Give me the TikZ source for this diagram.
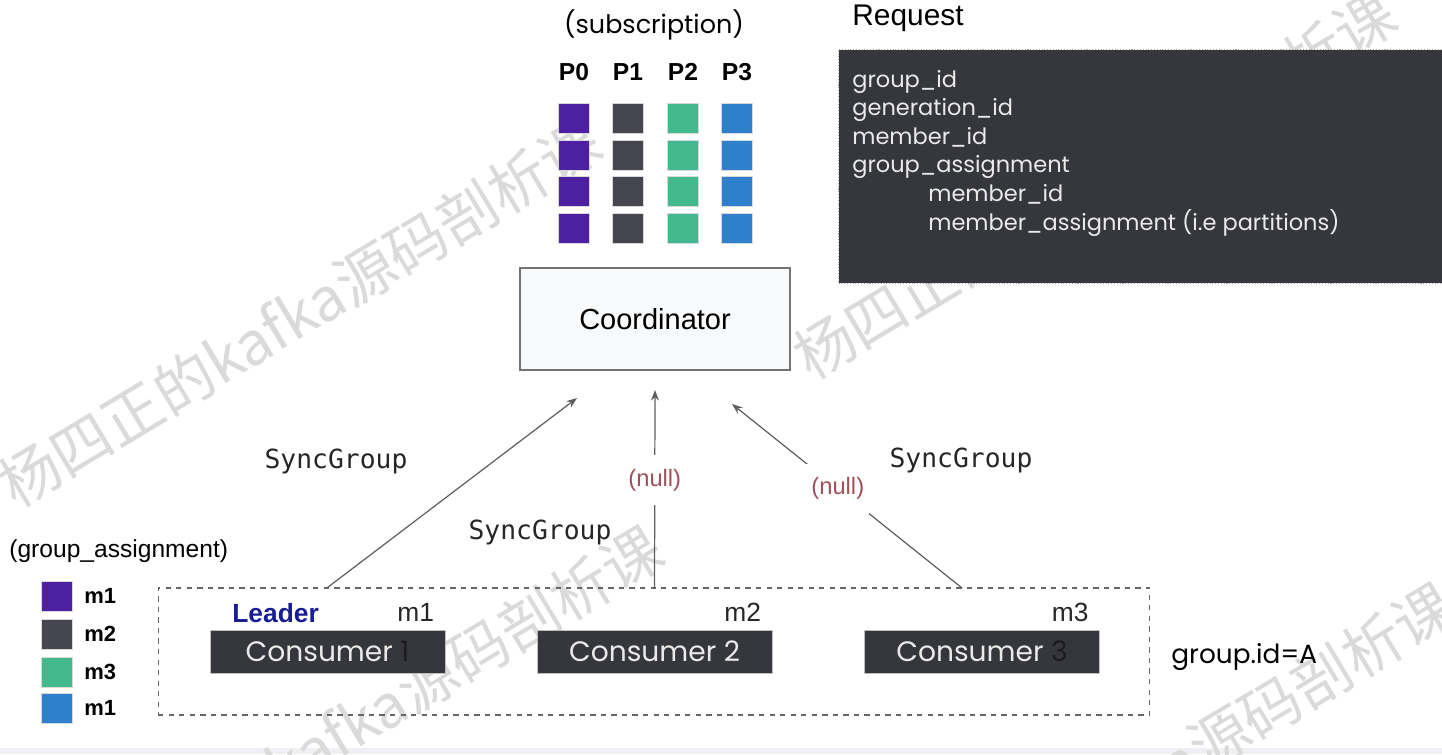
\documentclass[tikz,border=0pt]{standalone}
\usepackage{fontspec}
\setmainfont{Liberation Sans}
\newfontfamily\geofont{Poppins}
\newfontfamily\codefont{DejaVu Sans Mono}
\newfontfamily\wmfont{Noto Sans CJK SC}
\usetikzlibrary{arrows.meta,calc,positioning}
\definecolor{PartPurple}{RGB}{76,32,160}
\definecolor{PartSlate}{RGB}{70,70,80}
\definecolor{PartGreen}{RGB}{66,186,142}
\definecolor{PartBlue}{RGB}{47,128,204}
\definecolor{PanelDark}{RGB}{53,55,61}
\definecolor{PanelText}{RGB}{234,234,234}
\definecolor{NumDark}{RGB}{28,28,30}
\definecolor{LeaderBlue}{RGB}{24,28,150}
\definecolor{NullRed}{RGB}{160,80,90}
\definecolor{LineGray}{RGB}{95,95,95}
\definecolor{CoordFill}{RGB}{248,249,250}
\definecolor{MarkGray}{RGB}{218,218,218}
\definecolor{StripGray}{RGB}{238,240,243}

\tikzset{
  partsq/.style={draw=black!15, line width=0.5pt, minimum width=0.62cm, minimum height=0.6cm, inner sep=0pt},
  plabel/.style={font=\bfseries\fontsize{14}{16}\selectfont, anchor=base, inner sep=0pt},
  legtext/.style={font=\bfseries\fontsize{12.5}{14}\selectfont, inner sep=0pt},
  consumer/.style={draw=black!25, fill=PanelDark, text=PanelText, minimum width=4.7cm, minimum height=0.86cm, inner sep=0pt, font=\geofont\fontsize{16}{18}\selectfont},
  memtag/.style={font=\fontsize{15}{17}\selectfont, anchor=base east, inner sep=0pt, text=black!85},
  reqline/.style={font=\geofont\fontsize{12.8}{14}\selectfont, text=PanelText, anchor=base west, inner sep=0pt},
  sync/.style={font=\codefont\fontsize{15}{17}\selectfont, text=black!85},
  nulltag/.style={font=\fontsize{13.5}{15}\selectfont, text=NullRed, fill=white, inner xsep=0.1cm, inner ysep=0.28cm},
  msg/.style={LineGray, line width=0.7pt, -{Stealth[length=6pt,width=4.5pt]}},
  watermark/.style={font=\wmfont\fontsize{34}{36}\selectfont, text=MarkGray, rotate=31}
}

\begin{document}
\begin{tikzpicture}[x=0.02cm, y=-0.02cm]
    \useasboundingbox (0,0) rectangle (1442,754);
    \fill[StripGray] (0,748) rectangle (1442,754);

    % watermark
    \node[watermark] (wm1) at (300,313) {杨四正的kafka源码剖析课};
    \node[watermark] (wm2) at (1095,185) {杨四正的kafka源码剖析课};
    \node[watermark] (wm3) at (362,720) {杨四正的kafka源码剖析课};
    \node[watermark] (wm4) at (1154,777) {杨四正的kafka源码剖析课};

    % subscription
    \node[font=\geofont\fontsize{14.5}{16}\selectfont, anchor=base, inner sep=0pt] (subs) at (654,33) {(subscription)};
    \node[plabel] (p0) at (574,80) {P0};
    \node[plabel] (p1) at (628,80) {P1};
    \node[plabel] (p2) at (683,80) {P2};
    \node[plabel] (p3) at (737,80) {P3};

    \node[partsq, fill=PartPurple] (s00) at (574,118) {};
    \node[partsq, fill=PartPurple] (s01) at (574,155) {};
    \node[partsq, fill=PartPurple] (s02) at (574,191) {};
    \node[partsq, fill=PartPurple] (s03) at (574,228) {};
    \node[partsq, fill=PartSlate] (s10) at (628,118) {};
    \node[partsq, fill=PartSlate] (s11) at (628,155) {};
    \node[partsq, fill=PartSlate] (s12) at (628,191) {};
    \node[partsq, fill=PartSlate] (s13) at (628,228) {};
    \node[partsq, fill=PartGreen] (s20) at (683,118) {};
    \node[partsq, fill=PartGreen] (s21) at (683,155) {};
    \node[partsq, fill=PartGreen] (s22) at (683,191) {};
    \node[partsq, fill=PartGreen] (s23) at (683,228) {};
    \node[partsq, fill=PartBlue] (s30) at (737,118) {};
    \node[partsq, fill=PartBlue] (s31) at (737,155) {};
    \node[partsq, fill=PartBlue] (s32) at (737,191) {};
    \node[partsq, fill=PartBlue] (s33) at (737,228) {};

    \node[draw=black!55, fill=CoordFill, line width=0.8pt, minimum width=5.4cm, minimum height=2.04cm, font=\fontsize{16.5}{18}\selectfont] (coord) at (655,319) {Coordinator};

    % request panel
    \node[font=\fontsize{17}{19}\selectfont, anchor=base west, inner sep=0pt] (reqlabel) at (852,25) {Request};
    \node[fill=PanelDark, draw=black!35, densely dotted, line width=0.6pt, anchor=north west, minimum width=12.1cm, minimum height=4.68cm, inner sep=0pt] (req) at (838,49) {};
    \node[reqline] (r1) at (852,87) {group\_id};
    \node[reqline] (r2) at (852,115.6) {generation\_id};
    \node[reqline] (r3) at (852,144.2) {member\_id};
    \node[reqline] (r4) at (852,172.8) {group\_assignment};
    \node[reqline] (r5) at (928,201.4) {member\_id};
    \node[reqline] (r6) at (928,230) {member\_assignment (i.e partitions)};

    % consumer group
    \node[draw=black!60, dashed, line width=0.6pt, minimum width=19.84cm, minimum height=2.54cm] (grp) at (654,651.5) {};
    \node[consumer] (c1) at (327.5,651.5) {Consumer \textcolor{NumDark}{1}};
    \node[consumer] (c2) at (654.5,651.5) {Consumer 2};
    \node[consumer] (c3) at (982,651.5) {Consumer \textcolor{NumDark}{3}};
    \node[font=\bfseries\fontsize{15}{17}\selectfont, text=LeaderBlue, anchor=base west, inner sep=0pt] (lead) at (232,622) {Leader};
    \node[memtag] (m1) at ($(c1.north east)+(-11,-8)$) {m1};
    \node[memtag] (m2) at ($(c2.north east)+(-11,-8)$) {m2};
    \node[memtag] (m3) at ($(c3.north east)+(-11,-8)$) {m3};
    \node[font=\geofont\fontsize{15}{17}\selectfont, anchor=base west, inner sep=0pt] (gid) at (1171,663) {group.id=A};

    % group assignment legend
    \node[font=\fontsize{14}{16}\selectfont, anchor=base west, inner sep=0pt] (gassign) at (9,557) {(group\_assignment)};
    \node[partsq, fill=PartPurple] (lg1) at (57,596) {};
    \node[partsq, fill=PartSlate] (lg2) at (57,634) {};
    \node[partsq, fill=PartGreen] (lg3) at (57,672) {};
    \node[partsq, fill=PartBlue] (lg4) at (57,708) {};
    \node[legtext, right=0.22cm of lg1] (lt1) {m1};
    \node[legtext, right=0.22cm of lg2] (lt2) {m2};
    \node[legtext, right=0.22cm of lg3] (lt3) {m3};
    \node[legtext, right=0.22cm of lg4] (lt4) {m1};

    % sync group requests
    \coordinate (t1) at (c1 |- grp.north);
    \coordinate (t2) at (c2 |- grp.north);
    \coordinate (t3) at (962,588);
    \coordinate (h1) at (577,398);
    \coordinate (h2) at (655,390);
    \coordinate (h3) at (732,404);
    \draw[msg] (t1) -- (h1);
    \draw[msg] (t2) -- node[nulltag, pos=0.545] (null2) {(null)} (h2);
    \draw[msg] (t3) -- node[nulltag, pos=0.54] (null3) {(null)} (h3);

    \node[sync] (sg1) at (336,461) {SyncGroup};
    \node[sync] (sg2) at (540,532) {SyncGroup};
    \node[sync] (sg3) at (961,460) {SyncGroup};
\end{tikzpicture}
\end{document}
